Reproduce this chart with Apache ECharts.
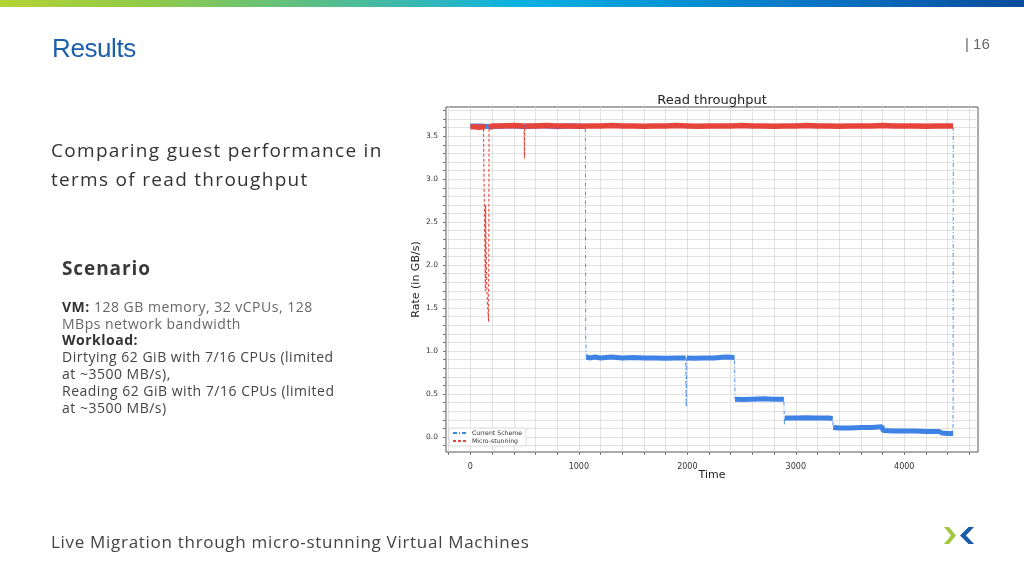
<!DOCTYPE html>
<html>
<head>
<meta charset="utf-8">
<script src="https://cdn.jsdelivr.net/npm/echarts@6/dist/echarts.min.js"></script>
<style>
html,body{margin:0;padding:0;width:1024px;height:576px;overflow:hidden;background:#fff;}
#bar{position:absolute;left:0;top:0;width:1024px;height:7px;
 background:linear-gradient(90deg,#b6d334 0%,#8fca4b 15%,#5dbf84 30%,#33b7b8 42%,#0cb3e2 50%,#079bd9 62%,#0a74c4 80%,#0b4c9c 100%);}
#chart{position:absolute;left:0;top:0;width:1024px;height:576px;}
.t{position:absolute;white-space:nowrap;z-index:2;}
#results{left:52px;top:35.3px;font-family:'Liberation Sans',Arial,sans-serif;font-size:26px;line-height:26px;color:#1c5fab;letter-spacing:-0.4px;}
#pg{left:965px;top:35.6px;font-family:'Liberation Sans',Arial,sans-serif;font-size:15px;line-height:15px;color:#666;}
#lead{left:51px;top:136.4px;font-family:'Open Sans',sans-serif;font-size:19px;line-height:29px;color:#333;letter-spacing:1.3px;}
#scen{left:62px;top:259px;font-family:'Open Sans',sans-serif;font-weight:bold;font-size:19px;line-height:19px;color:#3a3a3a;letter-spacing:0.9px;}
#body{left:62px;top:298.9px;font-family:'Open Sans',sans-serif;font-size:14px;line-height:16.8px;color:#444;letter-spacing:0.5px;}
#body b{color:#333;}
#body .l{color:#666;}
#foot{left:51px;top:532.3px;font-family:'Open Sans',sans-serif;font-size:17px;line-height:20px;color:#444;letter-spacing:0.7px;}
#logo{position:absolute;left:943px;top:525px;z-index:2;}
</style>
</head>
<body>
<div id="bar"></div>
<div id="chart"></div>
<div class="t" id="results">Results</div>
<div class="t" id="pg">| 16</div>
<div class="t" id="lead">Comparing guest performance in<br>terms of read throughput</div>
<div class="t" id="scen">Scenario</div>
<div class="t" id="body"><b>VM:</b> <span class="l">128 GB memory, 32 vCPUs, 128</span><br><span class="l">MBps network bandwidth</span><br><b>Workload:</b><br>Dirtying 62 GiB with 7/16 CPUs (limited<br>at ~3500 MB/s),<br>Reading 62 GiB with 7/16 CPUs (limited<br>at ~3500 MB/s)</div>
<div class="t" id="foot">Live Migration through micro-stunning Virtual Machines</div>
<svg id="logo" width="34" height="22" viewBox="0 0 34 22">
 <polygon points="1,2 6,2 13,10.5 6,19 1,19 8,10.5" fill="#a3c83e"/>
 <polygon points="31,2 25.5,2 17,10.5 25.5,19 31,19 23,10.5" fill="#1a5ca8"/>
</svg>
<script>
// ---- data ----
const seriesNames = ['Current Scheme', 'Micro-stunning'];
const chartTitle = 'Read throughput';
const xAxisName = 'Time';
const yAxisName = 'Rate (in GB/s)';
const xTickLabels = [0, 1000, 2000, 3000, 4000];
const yTickLabels = [0, 0.5, 1.0, 1.5, 2.0, 2.5, 3.0, 3.5];

// Current Scheme (blue)
const schemeTime = [0, 100, 200, 300, 400, 500, 600, 700, 800, 900, 1000, 1060,
  1063, 1068, 1100, 1150, 1200, 1300, 1400, 1500, 1600, 1700, 1800, 1900, 1985,
  1990, 1995, 2050, 2150, 2250, 2350, 2435,
  2440, 2500, 2600, 2700, 2800, 2890,
  2895, 2900, 3000, 3100, 3200, 3300, 3340,
  3345, 3400, 3500, 3600, 3700, 3795,
  3805, 3900, 4000, 4100, 4200, 4320, 4350, 4400, 4450,
  4452];
const schemeRate = [3.62, 3.62, 3.61, 3.62, 3.62, 3.61, 3.62, 3.62, 3.61, 3.62, 3.62, 3.61,
  1.15, 0.93, 0.92, 0.93, 0.92, 0.93, 0.92, 0.925, 0.92, 0.92, 0.915, 0.92, 0.92,
  0.35, 0.92, 0.915, 0.92, 0.92, 0.93, 0.925,
  0.44, 0.435, 0.44, 0.445, 0.44, 0.44,
  0.14, 0.22, 0.22, 0.225, 0.22, 0.22, 0.215,
  0.11, 0.105, 0.105, 0.11, 0.11, 0.12,
  0.075, 0.07, 0.07, 0.07, 0.065, 0.065, 0.045, 0.04, 0.04,
  3.60];

// Micro-stunning (red)
const microTime = [0, 40, 80, 120, 136,
  138, 140, 142, 144, 146, 148, 150, 152, 155, 158, 161, 164, 168,
  172, 200, 300, 400, 495, 498, 501, 600, 700, 800, 900, 1000, 1100, 1200, 1300,
  1400, 1500, 1600, 1700, 1800, 1900, 2000, 2100, 2200, 2300, 2400, 2500, 2600,
  2700, 2800, 2900, 3000, 3100, 3200, 3300, 3400, 3500, 3600, 3700, 3800, 3900,
  4000, 4100, 4200, 4300, 4400, 4450];
const microRate = [3.61, 3.61, 3.605, 3.61, 3.61,
  1.70, 2.70, 2.45, 2.28, 2.10, 1.95, 1.82, 1.72, 1.64, 1.56, 1.49, 1.42, 1.34,
  3.60, 3.62, 3.62, 3.625, 3.62, 3.24, 3.62, 3.62, 3.625, 3.62, 3.62, 3.615, 3.62, 3.62, 3.625,
  3.62, 3.62, 3.615, 3.62, 3.62, 3.625, 3.62, 3.615, 3.62, 3.62, 3.62, 3.625, 3.62,
  3.62, 3.615, 3.62, 3.62, 3.625, 3.62, 3.62, 3.615, 3.62, 3.62, 3.62, 3.625, 3.62,
  3.62, 3.62, 3.615, 3.62, 3.62, 3.62];

const blue = '#3f82e6';
const red = '#e5443b';

function trace(ts, rs) { return ts.map((t, i) => [t, rs[i]]); }
// dense "band" of the noisy trace: only connect near-equal neighbours
function band(ts, rs) {
  const out = [];
  for (let i = 0; i < ts.length; i++) {
    if (i > 0 && Math.abs(rs[i] - rs[i - 1]) > 0.06) out.push(null);
    out.push([ts[i], rs[i]]);
  }
  return out;
}
const xMinor = []; for (let v = -200; v <= 4600; v += 200) xMinor.push(v);
const yMinor = []; for (let k = -1; k <= 38; k++) yMinor.push(+(k / 10).toFixed(1));

const chart = echarts.init(document.getElementById('chart'));
const fontMpl = 'DejaVu Sans';
chart.setOption({
  animation: false,
  backgroundColor: 'transparent',
  title: { text: chartTitle, left: 712, top: 94, textAlign: 'center', padding: 0,
    textStyle: { fontFamily: fontMpl, fontSize: 13, fontWeight: 'normal', color: '#222' } },
  grid: { left: 446, top: 107, width: 532, height: 345, show: true, borderColor: '#555', borderWidth: 1, backgroundColor: '#fff' },
  legend: {
    left: 449, top: 428, orient: 'vertical', itemGap: 2, itemWidth: 14, itemHeight: 6,
    padding: [2, 4, 2, 3], backgroundColor: 'rgba(255,255,255,0.9)', borderColor: '#d0d0d0', borderWidth: 0.8, borderRadius: 2,
    itemStyle: { opacity: 0 },
    textStyle: { fontFamily: fontMpl, fontSize: 6.2, color: '#333' },
    data: seriesNames
  },
  xAxis: {
    type: 'value', min: -225, max: 4680,
    name: xAxisName, nameLocation: 'middle', nameGap: 17.5, nameMoveOverlap: false,
    nameTextStyle: { fontFamily: fontMpl, fontSize: 11, color: '#222' },
    axisLine: { show: false, onZero: false },
    axisTick: { show: true, customValues: xMinor, length: 3, lineStyle: { color: '#555', width: 0.8 } },
    axisLabel: { customValues: xTickLabels, margin: 11, fontFamily: fontMpl, fontSize: 8, color: '#333', formatter: v => String(v) },
    splitLine: { show: true, lineStyle: { color: '#dadada', width: 0.8 } }
  },
  yAxis: {
    type: 'value', min: -0.175, max: 3.84,
    name: yAxisName, nameLocation: 'middle', nameGap: 24.5, nameRotate: 90, nameMoveOverlap: false,
    nameTextStyle: { fontFamily: fontMpl, fontSize: 11, color: '#222' },
    axisLine: { show: false, onZero: false },
    axisTick: { show: true, customValues: yMinor, length: 3, lineStyle: { color: '#555', width: 0.8 } },
    axisLabel: { customValues: yTickLabels, margin: 8, fontFamily: fontMpl, fontSize: 7.5, color: '#333', formatter: v => v.toFixed(1) },
    splitLine: { show: true, lineStyle: { color: '#dadada', width: 0.8 } }
  },
  series: [
    { name: seriesNames[0], type: 'line', data: trace(schemeTime, schemeRate), symbol: 'none',
      itemStyle: { color: blue }, lineStyle: { color: blue, width: 0.9, type: [4, 2, 1, 2] } },
    { name: seriesNames[0], type: 'line', data: band(schemeTime, schemeRate), symbol: 'none', connectNulls: false,
      itemStyle: { color: blue }, lineStyle: { color: blue, width: 5 } },
    { name: seriesNames[1], type: 'line', data: trace(microTime, microRate), symbol: 'none',
      itemStyle: { color: red }, lineStyle: { color: red, width: 1.1, type: [3, 2] } },
    { name: seriesNames[1], type: 'line', data: band(microTime, microRate), symbol: 'none', connectNulls: false,
      itemStyle: { color: red }, lineStyle: { color: red, width: 5.5 } }
  ]
});
</script>
</body>
</html>
